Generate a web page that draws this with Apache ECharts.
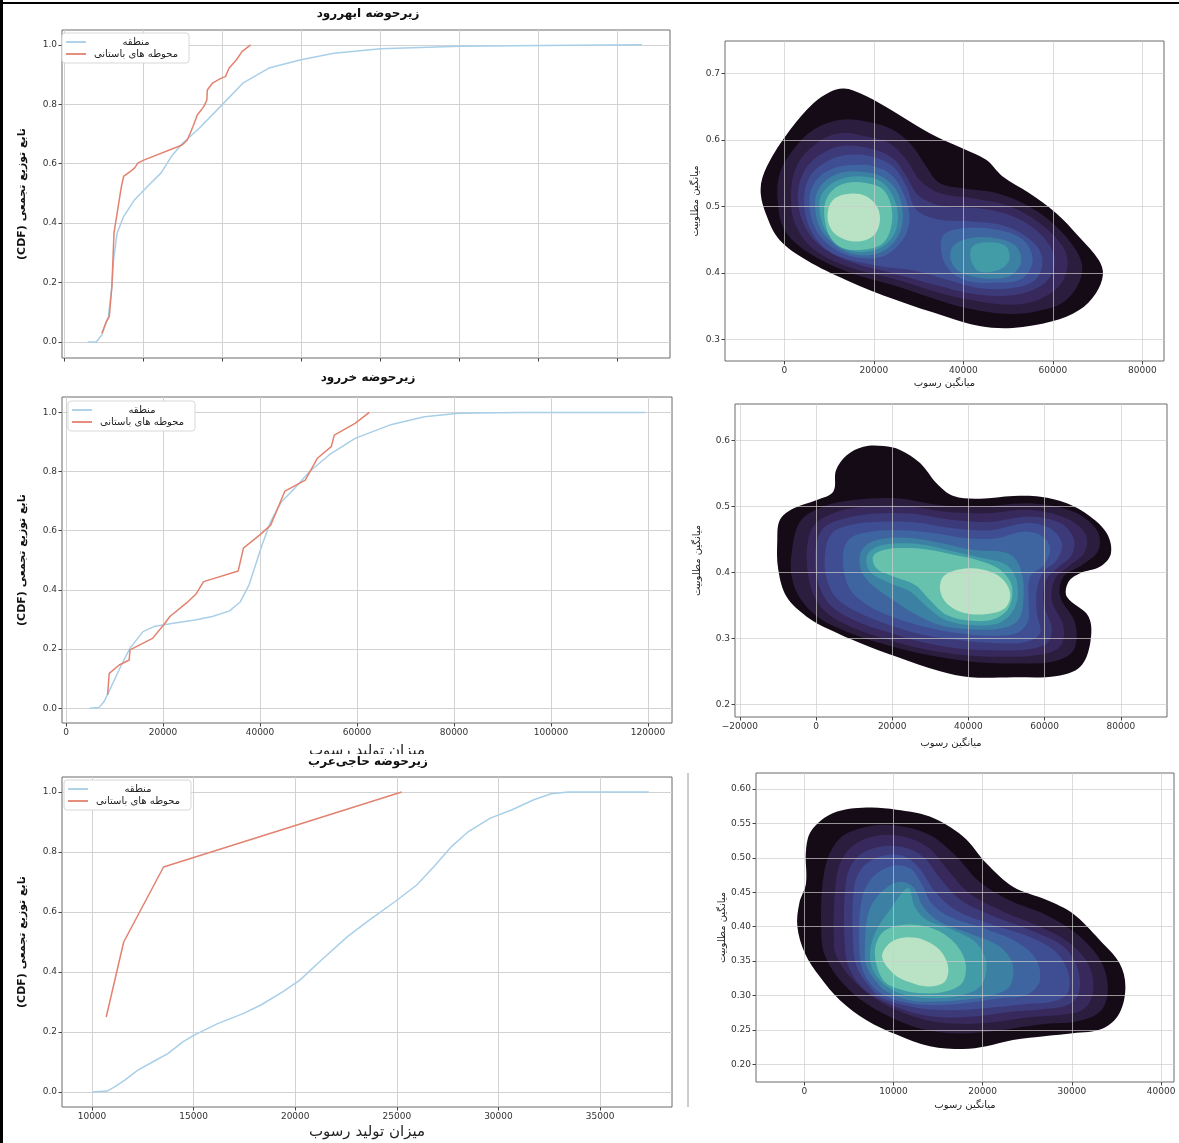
<!DOCTYPE html>
<html>
<head>
<meta charset="utf-8">
<script src="https://cdn.jsdelivr.net/npm/echarts@6/dist/echarts.min.js"></script>
<style>
  html, body { margin: 0; padding: 0; background: #fff; }
  #main { width: 1179px; height: 1143px; }
</style>
</head>
<body>
<div id="main"></div>
<script>
const FONT = 'DejaVu Sans';
const BLUE = '#a9cfe8';
const RED = '#e2826f';
// mako bands, outer -> inner
const MAKO = ['#150b17', '#2b1d3e', '#37295b', '#3d3a7a', '#3f4d93', '#3e65a0', '#3c80a3', '#429ca7', '#67c2ad', '#b9e3c4'];

const REGION = 'منطقه';
const SITES = 'محوطه های باستانی';

// ---- tick values ----
const cdfYTicks = [0, 0.2, 0.4, 0.6, 0.8, 1.0];
const abharXTicks = [0, 20000, 40000, 60000, 80000, 100000, 120000, 140000];
const kharrudXTicks = [0, 20000, 40000, 60000, 80000, 100000, 120000];
const hajiXTicks = [10000, 15000, 20000, 25000, 30000, 35000];
const abharKdeXTicks = [0, 20000, 40000, 60000, 80000];
const abharKdeYTicks = [0.3, 0.4, 0.5, 0.6, 0.7];
const kharrudKdeXTicks = [-20000, 0, 20000, 40000, 60000, 80000];
const kharrudKdeYTicks = [0.2, 0.3, 0.4, 0.5, 0.6];
const hajiKdeXTicks = [0, 10000, 20000, 30000, 40000];
const hajiKdeYTicks = [0.20, 0.25, 0.30, 0.35, 0.40, 0.45, 0.50, 0.55, 0.60];

// ---- CDF data: [value, cdf] ----
const abharRegion = [[6000,0],[8170,0],[9600,0.024],[11240,0.085],[12120,0.186],[12560,0.276],[13440,0.366],[15090,0.422],[17830,0.478],[21120,0.523],[24640,0.570],[27160,0.624],[29900,0.667],[34300,0.720],[40000,0.798],[45270,0.871],[51870,0.922],[60000,0.950],[68330,0.972],[80180,0.987],[100180,0.995],[121000,0.998],[146300,1.0]];
const abharSites = [[9600,0.029],[10690,0.068],[11470,0.085],[12120,0.186],[12660,0.366],[13440,0.433],[14530,0.523],[15090,0.557],[16730,0.573],[17830,0.585],[18710,0.602],[20030,0.611],[29900,0.663],[31220,0.680],[32660,0.725],[33750,0.764],[35390,0.792],[36180,0.815],[36280,0.848],[37590,0.871],[39800,0.888],[40880,0.893],[41770,0.921],[43620,0.949],[45060,0.977],[47240,1.0]];

const kharrudRegion = [[4900,0],[6780,0.002],[7850,0.0225],[9190,0.068],[11420,0.146],[13200,0.203],[15880,0.259],[18110,0.276],[22130,0.287],[26590,0.298],[30160,0.310],[33730,0.329],[35960,0.360],[37740,0.417],[39080,0.484],[40420,0.552],[42200,0.631],[44430,0.698],[47110,0.743],[50230,0.800],[54250,0.856],[59600,0.912],[66740,0.957],[73880,0.985],[81010,0.997],[93500,1.0],[119400,1.0]];
const kharrudSites = [[8565,0.045],[8920,0.118],[10970,0.146],[13030,0.163],[13200,0.197],[17840,0.236],[20160,0.282],[21410,0.310],[24800,0.355],[26770,0.385],[28370,0.428],[35510,0.464],[36580,0.541],[39970,0.586],[42200,0.619],[45140,0.734],[49340,0.771],[51840,0.845],[54690,0.884],[55320,0.923],[59600,0.963],[62540,1.0]];

const hajiRegion = [[10000,0],[10746,0.003],[11110,0.017],[11600,0.039],[12240,0.072],[12980,0.100],[13730,0.128],[14470,0.167],[15010,0.189],[16180,0.228],[17460,0.262],[18310,0.290],[19380,0.334],[20230,0.373],[21290,0.440],[22570,0.518],[23640,0.573],[24920,0.635],[25980,0.690],[26830,0.752],[27690,0.818],[28540,0.869],[29600,0.913],[30670,0.941],[31740,0.974],[32590,0.994],[33440,1.0],[37400,1.0]];
const hajiSites = [[10700,0.25],[11560,0.50],[13520,0.75],[25240,1.0]];

// ---- KDE contour bands: [meanSediment, meanSuitability] ----
const abharKde = [
  [[-5300,0.525],[-3900,0.56],[1300,0.615],[6500,0.655],[10200,0.672],[13100,0.677],[15400,0.674],[21300,0.655],[32500,0.61],[39900,0.587],[45100,0.57],[48800,0.545],[54700,0.52],[60700,0.49],[65900,0.454],[70300,0.419],[71200,0.397],[69600,0.369],[65900,0.344],[59900,0.327],[51000,0.317],[43600,0.32],[36200,0.334],[25000,0.359],[13900,0.389],[5000,0.419],[-1000,0.449],[-3900,0.485]],
  [[-1500,0.51],[-1000,0.55],[2000,0.585],[6500,0.615],[12400,0.63],[18000,0.628],[24300,0.615],[28700,0.59],[31700,0.56],[34700,0.535],[39900,0.527],[47300,0.52],[54700,0.50],[60700,0.47],[65100,0.435],[66600,0.408],[65500,0.38],[62200,0.355],[57000,0.343],[51000,0.338],[43600,0.343],[36200,0.355],[25000,0.38],[13900,0.402],[5000,0.432],[0,0.465]],
  [[1500,0.51],[2700,0.56],[7200,0.595],[12400,0.61],[18300,0.605],[23500,0.595],[27300,0.57],[30200,0.54],[34700,0.52],[42100,0.512],[50300,0.50],[57000,0.475],[62200,0.44],[63300,0.41],[61400,0.38],[57000,0.36],[51000,0.352],[43600,0.357],[36200,0.367],[25000,0.39],[13900,0.41],[6500,0.436],[2600,0.47]],
  [[3000,0.51],[4200,0.55],[7900,0.577],[13100,0.591],[19100,0.587],[24300,0.572],[27300,0.545],[30200,0.515],[35400,0.50],[43600,0.497],[51000,0.485],[57000,0.46],[60300,0.425],[59200,0.392],[54700,0.372],[48100,0.365],[40600,0.37],[34700,0.38],[25000,0.398],[15400,0.415],[8500,0.438],[4700,0.468]],
  [[4400,0.51],[5700,0.545],[9400,0.567],[13900,0.577],[19500,0.575],[24300,0.56],[27300,0.53],[29500,0.495],[34700,0.48],[42100,0.477],[49500,0.47],[55500,0.447],[57700,0.42],[56200,0.39],[51000,0.377],[43600,0.377],[36200,0.39],[28700,0.404],[21300,0.41],[12400,0.424],[8300,0.442],[5400,0.472]],
  [[5600,0.51],[7200,0.54],[10900,0.557],[15400,0.562],[20200,0.56],[24300,0.545],[26900,0.515],[28000,0.48],[26500,0.45],[22100,0.425],[15400,0.424],[10000,0.442],[6800,0.468]],
  [[35400,0.455],[39900,0.467],[47300,0.465],[53300,0.45],[55500,0.42],[53300,0.392],[47300,0.385],[39900,0.39],[35800,0.415]],
  [[6900,0.51],[8700,0.535],[12400,0.55],[17200,0.552],[21700,0.545],[25000,0.525],[26500,0.49],[25400,0.455],[21300,0.43],[15400,0.428],[10800,0.445],[7800,0.47]],
  [[37700,0.44],[41400,0.452],[47300,0.452],[51800,0.44],[52900,0.415],[50300,0.395],[44300,0.392],[39100,0.402],[37200,0.42]],
  [[7900,0.508],[9800,0.53],[13100,0.542],[17600,0.545],[21700,0.537],[24300,0.515],[25400,0.485],[24300,0.455],[20600,0.435],[15400,0.432],[11300,0.447],[8600,0.472]],
  [[42100,0.44],[45800,0.446],[49500,0.44],[50300,0.42],[48100,0.405],[43600,0.402],[41700,0.42]],
  [[9100,0.505],[10900,0.525],[13900,0.535],[18300,0.535],[22100,0.525],[23900,0.50],[23900,0.47],[22100,0.445],[18000,0.435],[13100,0.437],[10400,0.452],[9100,0.477]],
  [[9800,0.495],[11300,0.512],[14600,0.519],[18300,0.515],[20900,0.497],[21300,0.475],[19800,0.455],[16100,0.447],[12000,0.455],[10000,0.472]]
];
const abharLevels = [0, 1, 2, 3, 4, 5, 5, 6, 6, 7, 7, 8, 9];

const kharrudKde = [
  [[-10160,0.449],[-9460,0.480],[-5950,0.497],[180,0.510],[4550,0.523],[5250,0.555],[8060,0.578],[12430,0.591],[17690,0.592],[22070,0.586],[27320,0.566],[31700,0.535],[36080,0.516],[43080,0.512],[51840,0.516],[58850,0.515],[65850,0.505],[71980,0.485],[76360,0.459],[77410,0.429],[74610,0.409],[69360,0.399],[66290,0.386],[65850,0.363],[71550,0.333],[71980,0.293],[69360,0.257],[63230,0.243],[51840,0.241],[40460,0.241],[32580,0.250],[21190,0.272],[11560,0.293],[3680,0.313],[-2450,0.333],[-7710,0.363],[-9900,0.404]],
  [[-6390,0.429],[-4200,0.477],[1930,0.500],[9810,0.510],[21190,0.5125],[32580,0.502],[43080,0.500],[56220,0.505],[67600,0.492],[73730,0.464],[74170,0.434],[69790,0.411],[64980,0.394],[64100,0.363],[68040,0.323],[67600,0.282],[62350,0.265],[51840,0.262],[40460,0.265],[29070,0.275],[18560,0.290],[8930,0.308],[1050,0.330],[-4200,0.361],[-6390,0.394]],
  [[-2450,0.427],[-700,0.470],[4550,0.490],[13310,0.500],[23820,0.501],[34330,0.492],[44840,0.490],[56220,0.495],[65850,0.482],[70670,0.459],[70670,0.432],[66730,0.411],[62790,0.391],[61910,0.358],[64980,0.318],[64100,0.2875],[58850,0.275],[48340,0.272],[37830,0.275],[27320,0.285],[17690,0.300],[8930,0.318],[2360,0.341],[-1140,0.373]],
  [[-260,0.427],[1490,0.464],[6300,0.480],[15060,0.489],[25570,0.489],[35200,0.480],[45710,0.477],[56220,0.485],[64100,0.475],[67600,0.452],[67170,0.427],[63230,0.406],[60160,0.386],[59720,0.353],[61910,0.315],[60600,0.2925],[55340,0.283],[46590,0.282],[36950,0.285],[27320,0.295],[18560,0.310],[9810,0.328],[3680,0.351],[610,0.384]],
  [[2360,0.427],[4120,0.459],[8930,0.472],[16810,0.477],[26450,0.476],[36080,0.467],[45710,0.464],[55340,0.475],[61470,0.467],[64540,0.444],[63230,0.419],[59720,0.401],[57970,0.373],[57970,0.338],[58850,0.308],[55340,0.295],[47460,0.2925],[37830,0.297],[28200,0.305],[19440,0.320],[11560,0.338],[5430,0.361],[2800,0.391]],
  [[7090,0.427],[8930,0.452],[14190,0.462],[22070,0.464],[30820,0.460],[39580,0.452],[47460,0.452],[54470,0.462],[59720,0.454],[61470,0.434],[59720,0.411],[56220,0.394],[55780,0.358],[55780,0.328],[52720,0.308],[45710,0.304],[36950,0.308],[28200,0.318],[20320,0.332],[13310,0.351],[8490,0.379]],
  [[11560,0.427],[13750,0.444],[18560,0.452],[25570,0.452],[33450,0.444],[41330,0.434],[48340,0.432],[51840,0.424],[54030,0.399],[54470,0.363],[53150,0.328],[48340,0.315],[40460,0.314],[32580,0.320],[25570,0.338],[20320,0.358],[15060,0.379],[12000,0.401]],
  [[13310,0.424],[15940,0.439],[21190,0.444],[28200,0.442],[36080,0.432],[43960,0.4215],[50090,0.411],[52720,0.386],[52280,0.348],[48340,0.324],[41330,0.320],[34330,0.327],[29070,0.348],[24690,0.371],[18560,0.386],[14190,0.401]],
  [[14970,0.424],[17690,0.434],[22940,0.437],[29070,0.435],[36080,0.427],[42300,0.419],[48340,0.404],[51400,0.379],[50530,0.346],[46590,0.329],[40460,0.327],[34330,0.3355],[29950,0.358],[26010,0.381],[20320,0.394],[15940,0.406]],
  [[33450,0.394],[37830,0.405],[43960,0.404],[48780,0.391],[50970,0.368],[49650,0.346],[44840,0.337],[38710,0.339],[34330,0.353],[32580,0.373]]
];
const kharrudLevels = [0, 1, 2, 3, 4, 5, 6, 7, 8, 9];

const hajiKde = [
  [[190,0.511],[820,0.540],[3250,0.565],[6980,0.573],[10330,0.570],[14070,0.560],[17800,0.531],[20410,0.492],[23390,0.458],[27120,0.439],[30110,0.419],[33090,0.381],[35330,0.347],[36000,0.313],[35330,0.274],[33470,0.252],[30110,0.245],[27120,0.241],[23390,0.235],[20410,0.226],[17800,0.222],[14070,0.226],[10330,0.243],[6980,0.264],[3990,0.293],[1750,0.327],[75,0.361],[-780,0.400],[-560,0.434],[190,0.463]],
  [[1940,0.381],[2200,0.477],[3810,0.526],[6980,0.545],[10330,0.547],[14070,0.533],[17050,0.502],[19660,0.465],[23390,0.436],[27120,0.417],[30670,0.388],[33280,0.349],[34030,0.308],[33170,0.2765],[30480,0.262],[27120,0.2586],[23390,0.252],[19660,0.246],[16680,0.245],[12950,0.252],[9590,0.269],[6420,0.293],[3990,0.3225],[2500,0.352]],
  [[3320,0.371],[3620,0.473],[4920,0.511],[7350,0.530],[10710,0.532],[13880,0.515],[16120,0.482],[18540,0.448],[22270,0.422],[26380,0.400],[29740,0.376],[31970,0.342],[32350,0.303],[31230,0.279],[28620,0.2716],[24890,0.268],[21150,0.261],[17420,0.2586],[13690,0.264],[10330,0.279],[7350,0.3007],[5110,0.327],[3810,0.352]],
  [[4550,0.371],[4660,0.465],[5780,0.499],[8100,0.515],[10890,0.516],[13390,0.501],[15110,0.472],[17500,0.439],[21230,0.415],[25710,0.393],[29060,0.371],[30670,0.338],[30780,0.303],[29550,0.286],[26750,0.280],[23390,0.2765],[19660,0.270],[15930,0.268],[12390,0.274],[9220,0.2896],[6790,0.308],[5110,0.337]],
  [[5480,0.371],[5600,0.458],[6680,0.488],[8840,0.503],[11270,0.502],[13020,0.483],[14630,0.451],[16860,0.425],[20600,0.405],[25070,0.386],[28060,0.365],[29550,0.335],[29550,0.304],[27870,0.291],[24890,0.2876],[21530,0.283],[18170,0.279],[14810,0.279],[11450,0.285],[8470,0.298],[6980,0.318],[5860,0.342]],
  [[6160,0.371],[6420,0.439],[7540,0.470],[9780,0.488],[11830,0.485],[13130,0.463],[14250,0.434],[16300,0.4145],[20040,0.398],[23770,0.378],[26000,0.352],[26380,0.320],[24890,0.3007],[21900,0.296],[18540,0.2896],[15190,0.286],[11830,0.2886],[8840,0.3007],[7350,0.318],[6420,0.342]],
  [[6790,0.361],[7160,0.419],[8470,0.448],[10520,0.465],[12200,0.458],[13320,0.429],[15190,0.407],[18540,0.390],[21900,0.371],[23390,0.344],[23020,0.313],[21150,0.3007],[18170,0.294],[14810,0.291],[11830,0.293],[9220,0.3055],[7910,0.3225],[6980,0.342]],
  [[7350,0.356],[7910,0.390],[9590,0.424],[11640,0.456],[12390,0.429],[13690,0.410],[16680,0.395],[19290,0.376],[20410,0.347],[19850,0.315],[17800,0.3007],[14810,0.296],[11830,0.299],[9590,0.310],[7910,0.332]],
  [[7910,0.361],[8660,0.390],[10710,0.402],[13690,0.400],[16300,0.383],[17980,0.352],[17800,0.320],[15930,0.306],[13320,0.303],[10710,0.309],[8840,0.3225]],
  [[8730,0.356],[9590,0.376],[11270,0.384],[13320,0.381],[15190,0.366],[16120,0.342],[15740,0.320],[13880,0.313],[11830,0.319],[9960,0.332]]
];
const hajiLevels = [0, 1, 2, 3, 4, 5, 6, 7, 8, 9];

function stepFormatter(step, digits) {
  return function (v) {
    const k = v / step;
    if (Math.abs(k - Math.round(k)) > 1e-6) return '';
    const s = digits ? v.toFixed(digits) : String(Math.round(v));
    return s.replace('-', '\u2212');
  };
}

function axis(gridIndex, min, max, splitNumber, step, digits, ticks, extra) {
  return Object.assign({
    type: 'value', gridIndex: gridIndex, min: min, max: max, splitNumber: splitNumber,
    axisLine: { show: false, onZero: false },
    axisTick: { show: true, length: 3.5, lineStyle: { color: '#444' }, customValues: ticks },
    axisLabel: { fontSize: 9, color: '#333', fontFamily: FONT, margin: 5, formatter: stepFormatter(step, digits), customValues: ticks },
    splitLine: { show: true, lineStyle: { color: '#d2d2d2', width: 1 } },
    nameLocation: 'middle',
    nameTextStyle: { fontFamily: FONT, fontSize: 10, color: '#222' }
  }, extra || {});
}

function gridBox(left, top, width, height) {
  return { left: left, top: top, width: width, height: height, show: true, borderColor: '#6a6a6a', borderWidth: 1, backgroundColor: 'transparent' };
}

function legendAt(left, top) {
  return {
    left: left, top: top, orient: 'vertical',
    icon: 'rect', itemWidth: 20, itemHeight: 1.8, itemGap: 2,
    padding: [4, 8, 4, 4],
    backgroundColor: '#fff', borderColor: '#d8d8d8', borderWidth: 1, borderRadius: 3,
    data: [REGION, SITES],
    formatter: function (name) { return '{t|' + name + '}'; },
    textStyle: { rich: { t: { width: 90, align: 'center', fontSize: 10, lineHeight: 11, fontFamily: FONT, color: '#222' } } }
  };
}

function cdfLine(name, data, color, idx) {
  return { type: 'line', name: name, data: data, xAxisIndex: idx, yAxisIndex: idx, symbol: 'none', color: color,
    lineStyle: { color: color, width: 1.5 }, silent: true, z: 2 };
}

function kdeSeries(polys, levels, idx) {
  return {
    type: 'custom', xAxisIndex: idx, yAxisIndex: idx, silent: true, clip: true, z: 1,
    data: polys.map(function (p) { return p[0]; }),
    renderItem: function (params, api) {
      const poly = polys[params.dataIndex];
      return {
        type: 'polygon',
        shape: { points: poly.map(function (p) { return api.coord(p); }), smooth: 0.35 },
        style: { fill: MAKO[levels[params.dataIndex]], stroke: null }
      };
    }
  };
}

const CDF_Y = '\u202Bتابع توزیع تجمعی (CDF)\u202C';
const cdfYName = { name: CDF_Y, nameGap: 34, nameTextStyle: { fontFamily: FONT, fontSize: 11, fontWeight: 'bold', color: '#111' } };
const kdeX = 'میانگین رسوب';
const kdeY = 'میانگین مطلوبیت';
const kdeGridLine = { show: true, lineStyle: { color: 'rgba(205,205,205,0.7)', width: 1 } };

const chart = echarts.init(document.getElementById('main'));
chart.setOption({
  animation: false,
  textStyle: { fontFamily: FONT },
  grid: [
    gridBox(62, 30, 608, 328),
    gridBox(62, 397, 610, 326),
    gridBox(62, 777, 610, 330),
    gridBox(725, 41, 439, 320),
    gridBox(735, 404, 432, 313),
    gridBox(756, 773, 418, 309)
  ],
  xAxis: [
    axis(0, -500, 153400, 8, 20000, 0, abharXTicks, { axisLabel: { show: false } }),
    axis(1, -825, 124950, 6, 20000, 0, kharrudXTicks, { name: 'میزان تولید رسوب', nameGap: 21, nameTextStyle: { fontFamily: FONT, fontSize: 15, color: '#222' } }),
    axis(2, 8524, 38540, 6, 5000, 0, hajiXTicks, { name: 'میزان تولید رسوب', nameGap: 18, nameTextStyle: { fontFamily: FONT, fontSize: 15, color: '#222' } }),
    axis(3, -13250, 84850, 5, 20000, 0, abharKdeXTicks, { name: kdeX, nameGap: 17, z: 5, splitLine: kdeGridLine }),
    axis(4, -21260, 92130, 6, 20000, 0, kharrudKdeXTicks, { name: kdeX, nameGap: 21, z: 5, splitLine: kdeGridLine }),
    axis(5, -5415, 41450, 5, 10000, 0, hajiKdeXTicks, { name: kdeX, nameGap: 18, z: 5, splitLine: kdeGridLine })
  ],
  yAxis: [
    axis(0, -0.054, 1.05, 5, 0.2, 1, cdfYTicks, cdfYName),
    axis(1, -0.05, 1.052, 5, 0.2, 1, cdfYTicks, cdfYName),
    axis(2, -0.05, 1.05, 5, 0.2, 1, cdfYTicks, cdfYName),
    axis(3, 0.2674, 0.7486, 5, 0.1, 1, abharKdeYTicks, { name: kdeY, nameGap: 25, z: 5, splitLine: kdeGridLine }),
    axis(4, 0.1807, 0.6557, 5, 0.1, 1, kharrudKdeYTicks, { name: kdeY, nameGap: 33, z: 5, splitLine: kdeGridLine }),
    axis(5, 0.1741, 0.6233, 8, 0.05, 2, hajiKdeYTicks, { name: kdeY, nameGap: 29, z: 5, splitLine: kdeGridLine })
  ],
  legend: [legendAt(62, 33), legendAt(68, 401), legendAt(64, 780)],
  series: [
    cdfLine(REGION, abharRegion, BLUE, 0),
    cdfLine(SITES, abharSites, RED, 0),
    cdfLine(REGION, kharrudRegion, BLUE, 1),
    cdfLine(SITES, kharrudSites, RED, 1),
    cdfLine(REGION, hajiRegion, BLUE, 2),
    cdfLine(SITES, hajiSites, RED, 2),
    kdeSeries(abharKde, abharLevels, 3),
    kdeSeries(kharrudKde, kharrudLevels, 4),
    kdeSeries(hajiKde, hajiLevels, 5)
  ],
  graphic: [
    { type: 'rect', z: 3, shape: { x: 150, y: 754, width: 300, height: 16 }, style: { fill: '#fff' } },
    { type: 'text', z: 10, x: 368, y: 14, style: { text: 'زیرحوضه ابهررود', font: 'bold 12px "DejaVu Sans"', fill: '#111', align: 'center', verticalAlign: 'middle' } },
    { type: 'text', z: 10, x: 368, y: 378, style: { text: 'زیرحوضه خررود', font: 'bold 12px "DejaVu Sans"', fill: '#111', align: 'center', verticalAlign: 'middle' } },
    { type: 'text', z: 10, x: 368, y: 762, style: { text: 'زیرحوضه حاجی‌عرب', font: 'bold 12px "DejaVu Sans"', fill: '#111', align: 'center', verticalAlign: 'middle' } },
    { type: 'line', z: 10, shape: { x1: 688, y1: 773, x2: 688, y2: 1107 }, style: { stroke: '#9a9a9a', lineWidth: 1 } },
    { type: 'line', z: 10, shape: { x1: 1.5, y1: 0, x2: 1.5, y2: 1143 }, style: { stroke: '#000', lineWidth: 3 } },
    { type: 'line', z: 10, shape: { x1: 0, y1: 3, x2: 1179, y2: 3 }, style: { stroke: '#000', lineWidth: 2 } }
  ]
});
</script>
</body>
</html>
